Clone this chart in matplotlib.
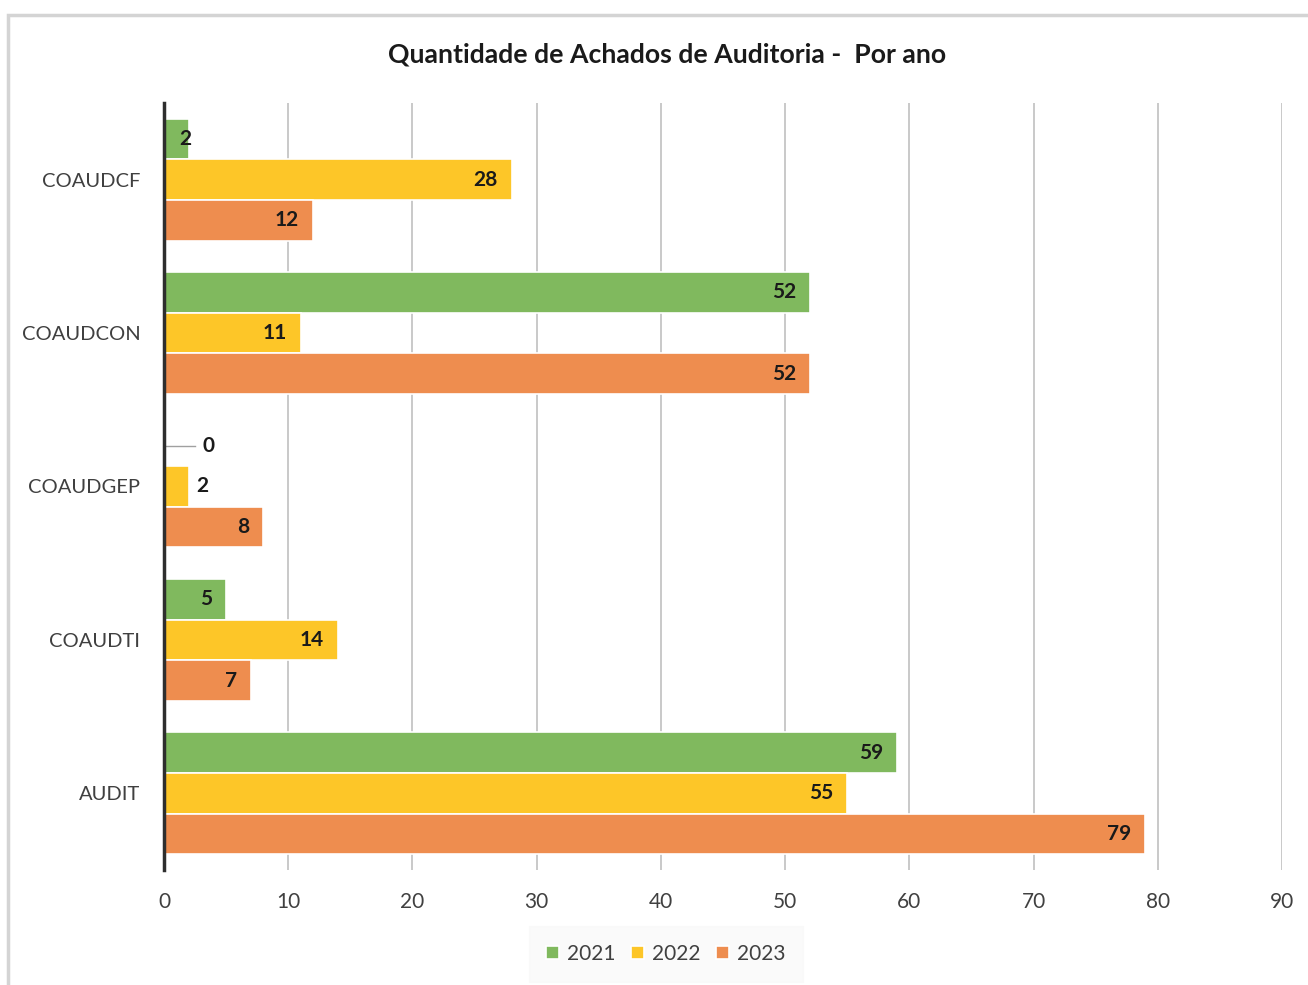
import matplotlib.pyplot as plt
from matplotlib.patches import Rectangle
import numpy as np

# dados
categorias = ['COAUDCF', 'COAUDCON', 'COAUDGEP', 'COAUDTI', 'AUDIT']
anos = ['2021', '2022', '2023']
v2021 = [2, 52, 0, 5, 59]
v2022 = [28, 11, 2, 14, 55]
v2023 = [12, 52, 8, 7, 79]
cores = ['#80B95E', '#FDC628', '#EE8D4F']

plt.rcParams['font.family'] = ['Lato', 'DejaVu Sans']

fig = plt.figure(figsize=(13.08, 9.85), dpi=100)
ax = fig.add_axes([164 / 1308, 115 / 985, (1282 - 164) / 1308, 767 / 985])

# moldura do print
fig.patches.append(Rectangle((8 / 1308, -0.1), 1.2, (985 - 15) / 985 + 0.1,
                             transform=fig.transFigure, fill=False,
                             edgecolor='#D4D4D4', linewidth=2.5))

y = np.arange(len(categorias))
h = 0.265
series = [v2021, v2022, v2023]
rot = dict(fontsize=15, fontweight='bold', color='#1A1A1A', zorder=5)
for i, (vals, cor, ano) in enumerate(zip(series, cores, anos)):
    pos = y + (i - 1) * h
    ax.barh(pos, vals, height=h, color=cor, edgecolor='white', linewidth=1.2,
            label=ano, zorder=3)
    for cat, p, v in zip(categorias, pos, vals):
        if v == 0:
            # linha guia para o zero
            ax.plot([0.15, 2.5], [p, p], color='#A0A0A0', lw=1, zorder=4)
            ax.text(3.6, p, str(v), ha='center', va='center', **rot)
        elif v < 5 and cat == 'COAUDGEP':
            ax.annotate(str(v), (v, p), xytext=(5, 0), textcoords='offset points',
                        ha='left', va='center', **rot)
        else:
            off = 2 if v < 5 else -10
            ax.annotate(str(v), (v, p), xytext=(off, 0), textcoords='offset points',
                        ha='right', va='center', **rot)

ax.set_xlim(0, 90)
ax.set_ylim(4.5, -0.5)
ax.set_xticks(range(0, 91, 10))
ax.set_yticks(y)
ax.set_yticklabels(categorias)
ax.tick_params(axis='x', length=0, pad=16, labelsize=15, colors='#404040')
ax.tick_params(axis='y', length=0, pad=17, labelsize=14.5, colors='#404040')
ax.grid(axis='x', color='#C9C9C9', linewidth=1.4, zorder=0)
for s in ['top', 'right', 'bottom']:
    ax.spines[s].set_visible(False)
ax.spines['left'].set_color('#2E2E2E')
ax.spines['left'].set_linewidth(2.5)
ax.spines['left'].set_zorder(6)

fig.text(667 / 1308, 1 - 54 / 985, 'Quantidade de Achados de Auditoria -  Por ano',
         ha='center', va='center', fontsize=19.2, fontweight='bold', color='#1A1A1A')

leg = fig.legend(loc='center', bbox_to_anchor=(666 / 1308, 1 - 954 / 985), ncol=3,
                 frameon=True, fontsize=15, handlelength=0.6, handleheight=0.6,
                 handletextpad=0.4, columnspacing=0.75, borderpad=0.55)
leg.get_frame().set_facecolor('#F9F9F9')
leg.get_frame().set_edgecolor('#F9F9F9')
leg.get_frame().set_boxstyle('square')
for t in leg.get_texts():
    t.set_color('#404040')

fig.savefig('out.png', dpi=100)
